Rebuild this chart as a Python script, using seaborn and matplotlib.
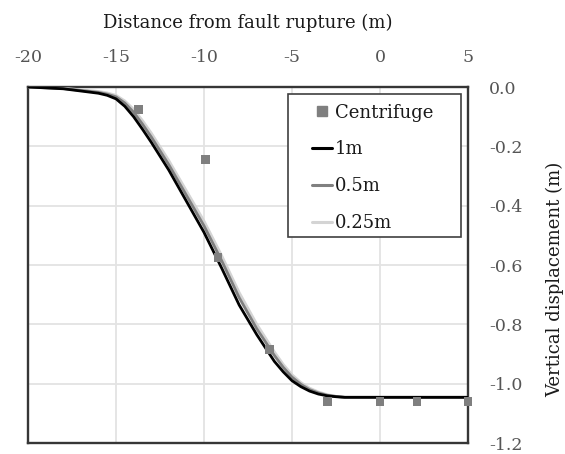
import numpy as np
import pandas as pd
import matplotlib
matplotlib.use("Agg")
import matplotlib.pyplot as plt
import seaborn as sns
from matplotlib.lines import Line2D
from matplotlib.patches import Rectangle

# Data
x_line = [-20, -18, -16, -15.5, -15, -14.5, -14, -13.5, -13, -12, -11, -10, -9, -8, -7, -6,
          -5.5, -5, -4.5, -4, -3.5, -3, -2.5, -2, 5]
y_1m = [0.0, -0.006, -0.021, -0.028, -0.040, -0.065, -0.100, -0.142, -0.186, -0.28, -0.385,
        -0.49, -0.61, -0.735, -0.835, -0.925, -0.960, -0.99, -1.010, -1.025, -1.035, -1.041,
        -1.044, -1.046, -1.046]
y_05m = [0.0, -0.005, -0.018, -0.024, -0.033, -0.054, -0.085, -0.125, -0.168, -0.262, -0.365,
         -0.468, -0.585, -0.71, -0.815, -0.905, -0.945, -0.978, -1.002, -1.02, -1.031, -1.039,
         -1.043, -1.046, -1.046]
y_025m = [0.0, -0.004, -0.015, -0.020, -0.028, -0.047, -0.075, -0.113, -0.155, -0.248, -0.35,
          -0.452, -0.568, -0.693, -0.80, -0.893, -0.935, -0.97, -0.996, -1.015, -1.028, -1.037,
          -1.043, -1.046, -1.046]
x_cent = [-13.7, -9.9, -9.2, -6.3, -3.0, 0.0, 2.1, 5.0]
y_cent = [-0.075, -0.245, -0.575, -0.885, -1.06, -1.06, -1.06, -1.06]
x_ticks = [-20, -15, -10, -5, 0, 5]
y_ticks = [0.0, -0.2, -0.4, -0.6, -0.8, -1.0, -1.2]

sns.set_theme(style="white")
plt.rcParams['font.family'] = ['DejaVu Serif', 'Liberation Serif']
plt.rcParams['axes.unicode_minus'] = False

df = pd.DataFrame({
    "x": x_line * 3,
    "y": y_025m + y_05m + y_1m,
    "series": ["0.25m"] * len(x_line) + ["0.5m"] * len(x_line) + ["1m"] * len(x_line),
})
cent = pd.DataFrame({"x": x_cent, "y": y_cent})

W, H = 565, 454
L, R, T, B = 28, 468, 87, 443
fig = plt.figure(figsize=(5.65, 4.54), dpi=100)
ax = fig.add_axes([L / W, 1 - B / H, (R - L) / W, (B - T) / H])

palette = {"1m": "#000000", "0.5m": "#808080", "0.25m": "#d4d4d4"}
sns.lineplot(data=df, x="x", y="y", hue="series", palette=palette, sort=False,
             linewidth=2.0, ax=ax, legend=False, zorder=3)
sns.scatterplot(data=cent, x="x", y="y", marker="s", s=40, color="#7f7f7f",
                edgecolor="none", ax=ax, zorder=5, clip_on=False)

ax.set_xlim(-20, 5)
ax.set_ylim(-1.2, 0.0)
ax.set_xticks(x_ticks)
ax.set_yticks(y_ticks)
ax.set_xticklabels([str(v) for v in x_ticks])
ax.set_yticklabels([f"{v:.1f}".replace("-0.0", "0.0") for v in y_ticks])
ax.xaxis.tick_top()
ax.xaxis.set_label_position("top")
ax.yaxis.tick_right()
ax.yaxis.set_label_position("right")
ax.tick_params(axis="x", length=0, pad=15, labelsize=12.5, labelcolor="#555555")
ax.tick_params(axis="y", length=0, pad=15, labelsize=12.5, labelcolor="#555555")
ax.set_xlabel("Distance from fault rupture (m)", fontsize=13, labelpad=15.5, color="#1a1a1a")
ax.set_ylabel("Vertical displacement (m)", fontsize=13, labelpad=17, color="#1a1a1a")
ax.grid(True, color="#e3e3e3", linewidth=1.3)
ax.set_axisbelow(True)
for s in ax.spines.values():
    s.set_visible(True)
    s.set_color("#363636")
    s.set_linewidth(1.7)


def axx(px):
    return (px - L) / (R - L)


def axy(py):
    return (B - py) / (B - T)


ax.yaxis.label.set_y(axy(279))

# legend frame
ax.add_patch(Rectangle((axx(288), axy(237)), axx(461) - axx(288), axy(94) - axy(237),
                       transform=ax.transAxes, facecolor="white", edgecolor="#404040",
                       linewidth=1.2, zorder=6, clip_on=False))

handles = [
    Line2D([], [], marker="s", color="#7f7f7f", linestyle="none", markersize=6.5),
    Line2D([], [], color="#000000", lw=2.2),
    Line2D([], [], color="#808080", lw=2.2),
    Line2D([], [], color="#d4d4d4", lw=2.2),
]
labels = ["Centrifuge", "1m", "0.5m", "0.25m"]
leg = ax.legend(handles, labels, loc="upper left", bbox_to_anchor=(axx(312), axy(103.5)),
                fontsize=13, frameon=False, handlelength=1.1,
                handletextpad=0.15, labelspacing=1.05, borderpad=0.0, borderaxespad=0.0)
leg.set_zorder(7)
for t in leg.get_texts():
    t.set_color("#1a1a1a")

fig.savefig("out.png", dpi=100)
